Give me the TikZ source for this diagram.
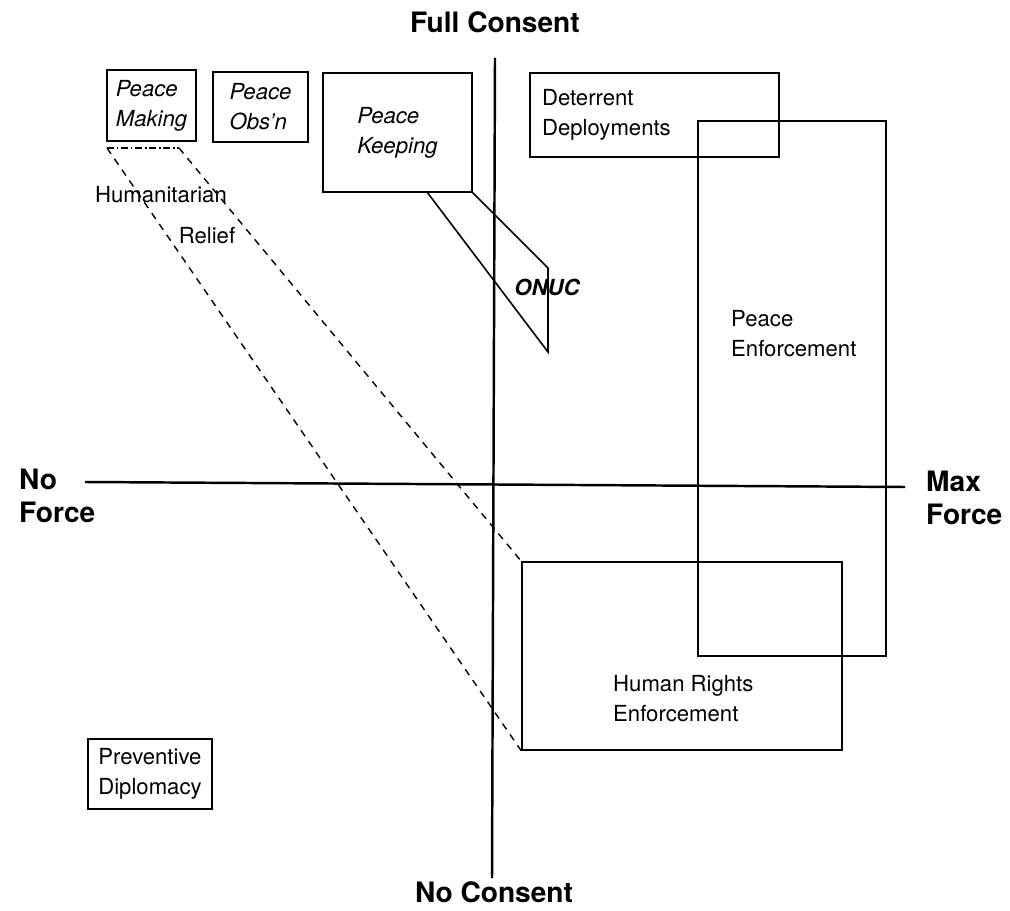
\documentclass[tikz,border=0pt]{standalone}
\usepackage{fontspec}
\setmainfont{TeX Gyre Heros}

\newcommand{\chartfont}{\fontsize{12.6}{17}\selectfont}
\newcommand{\axisfont}{\bfseries\fontsize{16}{18.5}\selectfont}

\tikzstyle{block} = [rectangle, draw, line width=.9pt, align=left, inner sep=2pt, font=\chartfont]
\tikzstyle{area} = [rectangle, draw, line width=.9pt]
\tikzstyle{axis} = [draw, line width=1.4pt]
\tikzstyle{axislabel} = [align=left, font=\axisfont]
\tikzstyle{tag} = [align=left, font=\chartfont]
\tikzstyle{relief} = [draw, line width=.8pt, dash pattern=on 4pt off 3.5pt]

\begin{document}
\begin{tikzpicture}[x=0.02cm, y=-0.02cm]

    \useasboundingbox (0,0) rectangle (1010,911);

    % AXES
    % * consent : top -> bottom
    % * force   : left -> right
        \coordinate (consent top) at (495,58);
        \coordinate (consent bottom) at (492,878);
        \coordinate (force left) at (85,482);
        \coordinate (force right) at (905,487);
        \path[axis] (consent top) -- (consent bottom);
        \path[axis] (force left) -- (force right);

        \node [axislabel] (full) at (495,22) {Full Consent};
        \node [axislabel] (none) at (494,892) {No Consent};
        \node [axislabel, anchor=west] (noforce) at (13,496) {No\\Force};
        \node [axislabel, anchor=west] (maxforce) at (920,498) {Max\\Force};

    % SMALL BOXES (upper left)
        \node [block, font=\chartfont\itshape, minimum width=1.78cm, minimum height=1.42cm]
            (making) at (151.5,105.5) {Peace\\Making};
        \node [block, font=\chartfont\itshape, minimum width=1.9cm, minimum height=1.4cm]
            (obsn) at (260.5,107) {Peace\\Obs'n};
        \node [block, font=\chartfont\itshape, minimum width=2.98cm, minimum height=2.38cm]
            (keeping) at (397.5,132.5) {Peace\\Keeping};

    % ONUC
        \coordinate (onuc start) at (427,192);
        \coordinate (onuc low) at (548,352);
        \coordinate (onuc high) at (548,268);
        \draw [line width=.9pt]
            (onuc start) -- (onuc low) -- (onuc high) -- (keeping.south east);
        \node [font=\chartfont\bfseries\itshape] (onuc) at (547,287) {ONUC};

    % DETERRENT + ENFORCEMENT
        \node [block, text width=4.5cm, inner xsep=0.24cm, minimum height=1.68cm]
            (deterrent) at (654.5,115) {Deterrent\\Deployments};
        \node [area, minimum width=3.76cm, minimum height=10.7cm]
            (enforce) at (792,388.5) {};
        \node [tag, anchor=west] (enforcetext) at (725,334) {Peace\\Enforcement};

    % HUMAN RIGHTS
        \node [area, minimum width=6.4cm, minimum height=3.76cm]
            (rights) at (682,656) {};
        \node [tag, anchor=west] (rightstext) at (607,699) {Human Rights\\Enforcement};

    % HUMANITARIAN RELIEF (dashed band)
        \coordinate (relief a) at (107,148);
        \coordinate (relief b) at (179,148);
        \path[relief, dash pattern=on 4pt off 1.5pt on 1pt off 1.5pt]
            (relief a) -- (relief b);
        \path[relief] (relief a) -- (rights.south west);
        \path[relief] (relief b) -- (rights.north west);
        \node [tag] (humanitarian) at (161,195) {Humanitarian};
        \node [tag] (relief) at (207,236) {Relief};

    % PREVENTIVE DIPLOMACY
        \node [block, minimum width=2.48cm, minimum height=1.4cm]
            (preventive) at (150,774) {Preventive\\Diplomacy};
\end{tikzpicture}
\end{document}
